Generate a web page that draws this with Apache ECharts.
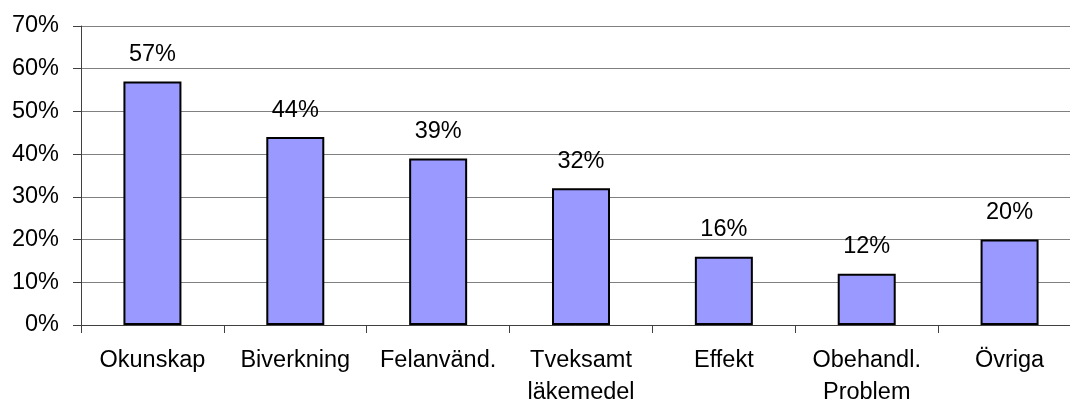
<!DOCTYPE html>
<html>
<head>
<meta charset="utf-8">
<style>
  html, body { margin: 0; padding: 0; background: #ffffff; }
  #chart { width: 1070px; height: 403px; }
</style>
<script src="https://cdn.jsdelivr.net/npm/echarts@6/dist/echarts.min.js"></script>
</head>
<body>
<div id="chart"></div>
<script>
// Categories (line breaks split the two-line labels)
const categories = ['Okunskap', 'Biverkning', 'Felanvänd.', 'Tveksamt\nläkemedel', 'Effekt', 'Obehandl.\nProblem', 'Övriga'];
// Share of cases per category, in percent
const shares = [57, 44, 39, 32, 16, 12, 20];
// Value axis range and step, in percent
const yMin = 0;
const yMax = 70;
const yStep = 10;

const font = '"Liberation Sans", Arial, sans-serif';
const chart = echarts.init(document.getElementById('chart'), null, { renderer: 'canvas' });

chart.setOption({
  backgroundColor: '#ffffff',
  animation: false,
  grid: { left: 81, top: 26, width: 1000, height: 299, containLabel: false, outerBoundsMode: 'none' },
  xAxis: {
    type: 'category',
    data: categories,
    boundaryGap: true,
    axisLine: { show: true, lineStyle: { color: '#404040', width: 1 } },
    axisTick: { show: true, alignWithLabel: false, length: 8, lineStyle: { color: '#404040', width: 1 } },
    axisLabel: {
      interval: 0,
      color: '#000000',
      fontFamily: font,
      fontSize: 23.5,
      lineHeight: 32,
      margin: 20
    },
    splitLine: { show: false }
  },
  yAxis: {
    type: 'value',
    min: yMin,
    max: yMax,
    interval: yStep,
    axisLine: { show: true, lineStyle: { color: '#404040', width: 1 } },
    axisTick: { show: true, inside: false, length: 8, lineStyle: { color: '#404040', width: 1 } },
    axisLabel: {
      color: '#000000',
      fontFamily: font,
      fontSize: 23.5,
      margin: 22,
      formatter: v => v + '%'
    },
    splitLine: { show: true, lineStyle: { color: '#808080', width: 1 } }
  },
  series: [{
    type: 'bar',
    data: shares,
    barWidth: 58,
    itemStyle: { color: '#9999ff', borderColor: '#000000', borderWidth: 2 },
    label: {
      show: true,
      position: 'top',
      distance: 15,
      color: '#000000',
      fontFamily: font,
      fontSize: 23.5,
      formatter: p => p.value + '%'
    }
  }]
});
</script>
</body>
</html>
